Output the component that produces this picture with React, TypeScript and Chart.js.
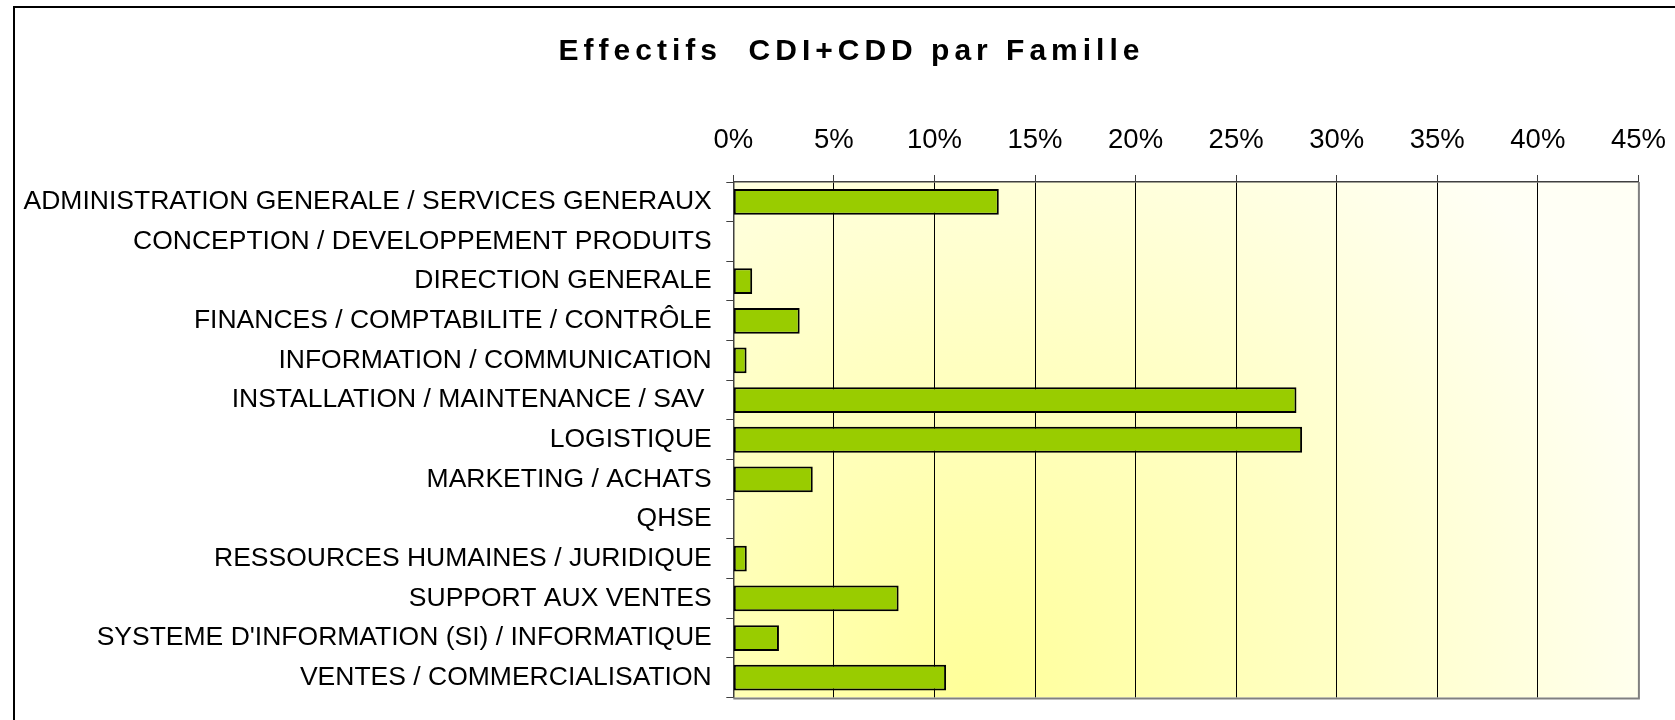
import React, { useEffect, useRef } from "react";
import { Chart, registerables } from "chart.js";

Chart.register(...registerables);

const TITLE = "Effectifs  CDI+CDD par Famille";

const categories = [
  "ADMINISTRATION GENERALE / SERVICES GENERAUX",
  "CONCEPTION / DEVELOPPEMENT PRODUITS",
  "DIRECTION GENERALE",
  "FINANCES / COMPTABILITE / CONTRÔLE",
  "INFORMATION / COMMUNICATION",
  "INSTALLATION / MAINTENANCE / SAV ",
  "LOGISTIQUE",
  "MARKETING / ACHATS",
  "QHSE",
  "RESSOURCES HUMAINES / JURIDIQUE",
  "SUPPORT AUX VENTES",
  "SYSTEME D'INFORMATION (SI) / INFORMATIQUE",
  "VENTES / COMMERCIALISATION",
];

// share of headcount (fraction)
const shares = [
  0.132, 0.0, 0.0094, 0.033, 0.0066, 0.28, 0.2828, 0.0395, 0.0, 0.0067, 0.0822,
  0.0227, 0.1058,
];

const xMin = 0;
const xMax = 0.45;
const xStep = 0.05;

const FONT = "'Liberation Sans', Arial, Helvetica, sans-serif";

const W = 1669;
const H = 720;
const TITLE_CENTER = 836.5;

const plotDecor = {
  id: "plotDecor",
  afterLayout(chart: any) {
    const t = chart.titleBlock;
    if (t) {
      t.left = 0;
      t.right = TITLE_CENTER * 2;
    }
  },
  beforeDraw(chart: any) {
    const { ctx, chartArea: ca } = chart;
    ctx.save();
    const w = ca.right - ca.left;
    const cx = ca.left + 0.26 * w;
    const cy = ca.bottom;
    const g = ctx.createRadialGradient(cx, cy, 0, cx, cy, 0.8 * w);
    g.addColorStop(0, "#FFFF99");
    g.addColorStop(0.5, "#FFFFC4");
    g.addColorStop(1, "#FFFFF5");
    ctx.fillStyle = g;
    ctx.fillRect(ca.left, ca.top, w, ca.bottom - ca.top);
    ctx.restore();
    // spacing for the title text (drawn before the datasets)
    ctx.letterSpacing = "5px";
  },
  beforeDatasetsDraw(chart: any) {
    chart.ctx.letterSpacing = "0px";
  },
  afterDatasetsDraw(chart: any) {
    const { ctx, chartArea: ca } = chart;
    ctx.save();
    ctx.strokeStyle = "#808080";
    ctx.lineWidth = 2;
    ctx.beginPath();
    ctx.moveTo(ca.right + 0.5, ca.top);
    ctx.lineTo(ca.right + 0.5, ca.bottom + 1);
    ctx.lineTo(ca.left, ca.bottom + 1);
    ctx.stroke();
    ctx.restore();
  },
};

export default function App() {
  const ref = useRef<HTMLCanvasElement | null>(null);

  useEffect(() => {
    if (!ref.current) return;
    const chart = new Chart(ref.current, {
      type: "bar",
      data: {
        labels: categories,
        datasets: [
          {
            data: shares,
            backgroundColor: "#99CC00",
            borderColor: "#000000",
            borderWidth: 2,
            borderSkipped: false,
            barPercentage: 0.65,
            categoryPercentage: 1,
          },
        ],
      },
      options: {
        indexAxis: "y",
        animation: false,
        responsive: false,
        maintainAspectRatio: false,
        layout: { padding: { left: 0, right: 45.6, top: 0, bottom: 10 } },
        plugins: {
          legend: { display: false },
          tooltip: { enabled: false },
          title: {
            display: true,
            text: TITLE,
            color: "#000",
            font: { family: FONT, size: 30, weight: "bold", lineHeight: 1.2 },
            padding: { top: 26, bottom: 11 },
          },
        },
        scales: {
          x: {
            position: "top",
            min: xMin,
            max: xMax,
            afterFit(scale: any) {
              scale.height = 101;
            },
            ticks: {
              stepSize: xStep,
              color: "#000",
              padding: 18,
              maxRotation: 0,
              z: 1,
              font: { family: FONT, size: 27.5 },
              callback: (v: any) => `${Math.round(Number(v) * 100)}%`,
            },
            grid: {
              color: "#000",
              lineWidth: 1,
              drawOnChartArea: true,
              drawTicks: true,
              tickLength: 7,
              tickColor: "#404040",
            },
            border: { display: true, color: "#404040", width: 1.5 },
          },
          y: {
            afterFit(scale: any) {
              scale.width = 718.3;
            },
            ticks: {
              color: "#000",
              padding: 14.6,
              autoSkip: false,
              z: 1,
              font: { family: FONT, size: 26.5 },
            },
            grid: {
              drawOnChartArea: false,
              drawTicks: true,
              tickLength: 7,
              tickColor: "#404040",
              color: "#404040",
            },
            border: { display: true, color: "#404040", width: 1.5 },
          },
        },
      },
      plugins: [plotDecor],
    });
    return () => chart.destroy();
  }, []);

  return (
    <div
      style={{
        position: "fixed",
        left: 0,
        top: 0,
        width: 1675,
        height: 720,
        overflow: "hidden",
        background: "#fff",
      }}
    >
      <div
        style={{
          position: "absolute",
          left: 13,
          top: 6,
          width: W,
          height: H,
          border: "2px solid #000",
        }}
      >
        <canvas
          ref={ref}
          width={W}
          height={H}
          style={{ display: "block", width: W, height: H }}
        />
      </div>
    </div>
  );
}
